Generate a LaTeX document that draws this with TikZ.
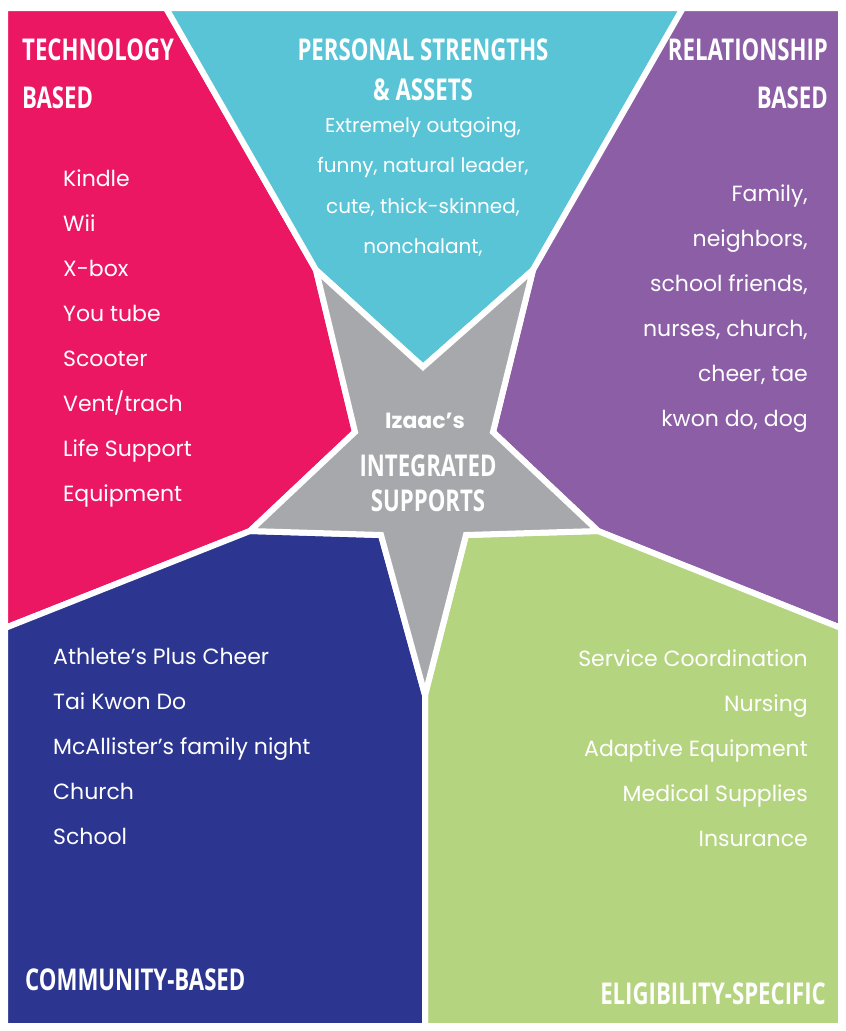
\documentclass[tikz,border=0pt]{standalone}
\usepackage{fontspec}
\newfontfamily\headfont[FakeStretch=0.74]{Open Sans Bold}
\newfontfamily\bodyfont{Poppins}
\definecolor{cpink}{HTML}{EC1763}
\definecolor{ccyan}{HTML}{59C4D6}
\definecolor{cpurple}{HTML}{8B5EA6}
\definecolor{cblue}{HTML}{2C3690}
\definecolor{cgreen}{HTML}{B5D47F}
\definecolor{cgray}{HTML}{A7A8AB}
\begin{document}
\begin{tikzpicture}[x=1pt,y=-1pt,
  reg/.style={draw=white,line width=6pt,line join=miter},
  head/.style={text=white,inner sep=0pt,font=\headfont\fontsize{30}{34}\selectfont},
  body/.style={text=white,inner sep=0pt,font=\bodyfont\fontsize{22}{45}\selectfont},
  lst/.style={body,align=left,anchor=north west},
  rst/.style={body,align=right,anchor=north east}]
\fill[white] (0,0) rectangle (846,1031);
\useasboundingbox (0,0) rectangle (846,1031);
\coordinate (Top) at (423,367);
\coordinate (T1) at (316,270);
\coordinate (L1) at (355,432);
\coordinate (T2) at (250,531);
\coordinate (LL) at (381,535);
\coordinate (B) at (425,695);
\coordinate (LR) at (466,535);
\coordinate (T4) at (598,531);
\coordinate (R1) at (493,432);
\coordinate (T5) at (533,270);
\fill[cpink,reg] (5,8) -- (166,8) -- (T1) -- (L1) -- (T2) -- (5,628) -- cycle;
\fill[ccyan,reg] (166,8) -- (683,8) -- (T5) -- (Top) -- (T1) -- cycle;
\fill[cpurple,reg] (683,8) -- (841,8) -- (841,628) -- (T4) -- (R1) -- (T5) -- cycle;
\fill[cgreen,reg] (841,628) -- (T4) -- (LR) -- (B) -- (425,1026) -- (841,1026) -- cycle;
\fill[cblue,reg] (5,628) -- (T2) -- (LL) -- (B) -- (425,1026) -- (5,1026) -- cycle;
\fill[cgray,reg] (Top) -- (T5) -- (R1) -- (T4) -- (LR) -- (B) -- (LL) -- (T2) -- (L1) -- (T1) -- cycle;
% headings
\node[head,anchor=base west] (th1) at (22,60) {TECHNOLOGY};
\node[head,anchor=base west] (th2) at (22,108) {BASED};
\node[head,anchor=base] (ph1) at (423,60) {PERSONAL STRENGTHS};
\node[head,anchor=base] (ph2) at (423,100) {\& ASSETS};
\node[head,anchor=base east] (rh1) at (828,60) {RELATIONSHIP};
\node[head,anchor=base east] (rh2) at (828,108) {BASED};
\node[head,anchor=base west] (ch) at (25,990) {COMMUNITY-BASED};
\node[head,anchor=base east] (eh) at (826,1004) {ELIGIBILITY-SPECIFIC};
\node[text=white,inner sep=0pt,font=\bodyfont\bfseries\fontsize{22}{24}\selectfont,anchor=base] (iz) at (425,428) {Izaac’s};
\node[head,anchor=base] (sh1) at (428,476) {INTEGRATED};
\node[head,anchor=base] (sh2) at (428,511) {SUPPORTS};
% lists
\node[lst] (tl) at (63,170) {Kindle\\Wii\\X-box\\You tube\\Scooter\\Vent/trach\\Life Support\\Equipment};
\node[body,align=center,anchor=north,font=\bodyfont\fontsize{20}{40.5}\selectfont] (pl) at (423,117) {Extremely outgoing,\\funny, natural leader,\\cute, thick-skinned,\\nonchalant,};
\node[rst] (rl) at (808,185) {Family,\\neighbors,\\school friends,\\nurses, church,\\cheer, tae\\kwon do, dog};
\node[lst] (bl) at (53,648) {Athlete’s Plus Cheer\\Tai Kwon Do\\McAllister’s family night\\Church\\School};
\node[rst] (gl) at (808,650) {Service Coordination\\Nursing\\Adaptive Equipment\\Medical Supplies\\Insurance};
\end{tikzpicture}
\end{document}
